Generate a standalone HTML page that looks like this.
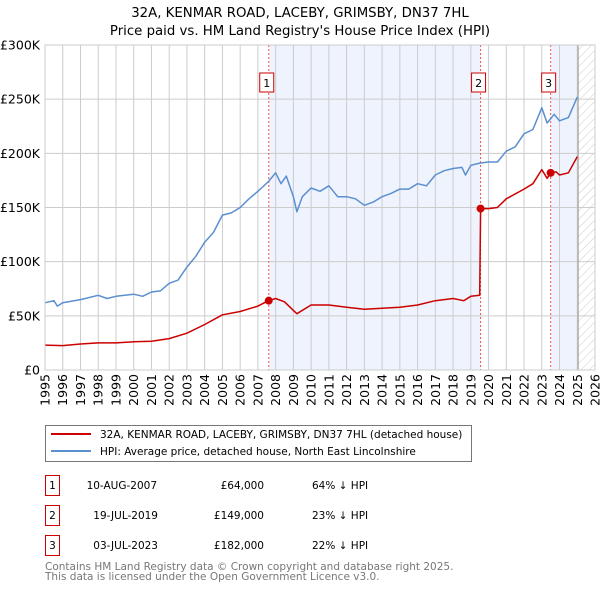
<!DOCTYPE html>
<html><head><meta charset="utf-8"><style>
body{margin:0;background:#fff;font-family:"DejaVu Sans","Liberation Sans",sans-serif;}
svg{display:block}
</style></head><body>
<svg width="600" height="590" xmlns="http://www.w3.org/2000/svg" font-family="DejaVu Sans, Liberation Sans, sans-serif">
<defs><pattern id="hatch" width="6" height="6" patternUnits="userSpaceOnUse" patternTransform="rotate(45)"><line x1="0" y1="0" x2="0" y2="6" stroke="#ccc" stroke-width="1"/></pattern></defs>
<text x="300" y="17" text-anchor="middle" font-size="13.3">32A, KENMAR ROAD, LACEBY, GRIMSBY, DN37 7HL</text>
<text x="300" y="35" text-anchor="middle" font-size="13.3">Price paid vs. HM Land Registry's House Price Index (HPI)</text>
<g id="plot"></g>
<g>
<rect x="45.5" y="425.5" width="426" height="36" fill="#fff" stroke="#777"/>
<line x1="51" y1="434" x2="91" y2="434" stroke="#cc0000" stroke-width="2"/>
<text x="100" y="438" font-size="10.5">32A, KENMAR ROAD, LACEBY, GRIMSBY, DN37 7HL (detached house)</text>
<line x1="51" y1="451" x2="91" y2="451" stroke="#5b8fd0" stroke-width="2"/>
<text x="100" y="455" font-size="10.5">HPI: Average price, detached house, North East Lincolnshire</text>
</g>
<g font-size="10.5">
<rect x="45.5" y="475.5" width="14" height="20" fill="#fff" stroke="#cc0000"/><text x="52.5" y="489" text-anchor="middle">1</text>
<text x="157" y="489" text-anchor="end">10-AUG-2007</text><text x="264" y="489" text-anchor="end">£64,000</text><text x="312" y="489">64% ↓ HPI</text>
<rect x="45.5" y="505.5" width="14" height="20" fill="#fff" stroke="#cc0000"/><text x="52.5" y="519" text-anchor="middle">2</text>
<text x="158" y="519" text-anchor="end">19-JUL-2019</text><text x="264" y="519" text-anchor="end">£149,000</text><text x="312" y="519">23% ↓ HPI</text>
<rect x="45.5" y="535.5" width="14" height="20" fill="#fff" stroke="#cc0000"/><text x="52.5" y="549" text-anchor="middle">3</text>
<text x="158" y="549" text-anchor="end">03-JUL-2023</text><text x="264" y="549" text-anchor="end">£182,000</text><text x="312" y="549">22% ↓ HPI</text>
</g>
<text x="45" y="570" font-size="10.5" fill="#777">Contains HM Land Registry data © Crown copyright and database right 2025.</text>
<text x="45" y="580" font-size="10.5" fill="#777">This data is licensed under the Open Government Licence v3.0.</text>
</svg>
<script>
const hpiYears=[1995,1995.5,1995.7,1996,1997,1998,1998.5,1999,2000,2000.5,2001,2001.5,2002,2002.5,2003,2003.5,2004,2004.5,2005,2005.5,2006,2006.5,2007,2007.6,2008,2008.3,2008.6,2009,2009.2,2009.5,2010,2010.5,2011,2011.5,2012,2012.5,2013,2013.5,2014,2014.5,2015,2015.5,2016,2016.5,2017,2017.5,2018,2018.5,2018.7,2019,2019.5,2020,2020.5,2021,2021.5,2022,2022.5,2023,2023.3,2023.7,2024,2024.5,2025];
const hpiValues=[62,64,59,62,65,69,66,68,70,68,72,73,80,83,95,105,118,127,143,145,150,158,165,174,182,172,179,160,146,160,168,165,170,160,160,158,152,155,160,163,167,167,172,170,180,184,186,187,180,189,191,192,192,202,206,218,222,242,228,236,230,233,252];
const ppYears=[1995,1996,1997,1998,1999,2000,2001,2002,2003,2004,2005,2006,2007,2007.6,2008,2008.5,2009,2009.2,2010,2011,2012,2013,2014,2015,2016,2017,2018,2018.6,2019,2019.5,2019.55,2020,2020.5,2021,2022,2022.5,2023,2023.3,2023.5,2023.8,2024,2024.5,2025];
const ppValues=[23,22.5,24,25,25,26,26.5,29,34,42,51,54,59,64,66,63,55,52,60,60,58,56,57,58,60,64,66,64,68,69,149,149,150,158,167,172,185,177,182,183,180,182,197];
const saleYears=[2007.61,2019.55,2023.5];
const saleValues=[64,149,182];
const saleLabels=["1","2","3"];
const yTicks=[0,50,100,150,200,250,300];
const yTickLabels=["£0","£50K","£100K","£150K","£200K","£250K","£300K"];
const xTicks=[1995,1996,1997,1998,1999,2000,2001,2002,2003,2004,2005,2006,2007,2008,2009,2010,2011,2012,2013,2014,2015,2016,2017,2018,2019,2020,2021,2022,2023,2024,2025,2026];
const dataEnd=2025.05;

const L=45,R=595,T=45,B=370;
const X=y=>L+(y-1995)*(R-L)/31;
const Y=v=>B-v*(B-T)/300;
const NS="http://www.w3.org/2000/svg";
const g=document.getElementById('plot');
function mk(t,a){const e=document.createElementNS(NS,t);for(const k in a)e.setAttribute(k,a[k]);g.appendChild(e);return e;}
let e;
e=mk('rect',{x:X(saleYears[0]),y:T,width:X(saleYears[1])-X(saleYears[0]),height:B-T,fill:'#eaf0fc',opacity:0.8});


e=mk('rect',{x:X(saleYears[2]),y:T,width:X(dataEnd)-X(saleYears[2]),height:B-T,fill:'#eaf0fc',opacity:0.8});


e=mk('rect',{x:X(dataEnd),y:T,width:R-X(dataEnd),height:B-T,fill:'url(#hatch)'});


xTicks.forEach(t=>{
 e=mk('line',{x1:X(t),x2:X(t),y1:T,y2:B,stroke:'#ccc','stroke-width':1});
 
 
 e=mk('text',{x:0,y:0,transform:`translate(${X(t)+4.5},${B+4}) rotate(-90)`,'text-anchor':'end','font-size':12.5});
 e.textContent=t;
 
 
});
yTicks.forEach((t,i)=>{
 e=mk('line',{x1:L,x2:R,y1:Y(t),y2:Y(t),stroke:'#ccc','stroke-width':1});
 
 
 e=mk('text',{x:L-5,y:Y(t)+4.5,'text-anchor':'end','font-size':12.5});
 e.textContent=yTickLabels[i];
 
 
});
e=mk('line',{x1:X(dataEnd),x2:X(dataEnd),y1:T,y2:B,stroke:'#999','stroke-width':1});


saleYears.forEach((s,i)=>{
 e=mk('line',{x1:X(s),x2:X(s),y1:T,y2:B,stroke:'#e55','stroke-width':1,'stroke-dasharray':'2,2'});
 
 
 e=mk('rect',{x:X(s)-9,y:73,width:14,height:19,fill:'#fff',stroke:'#cc0000'});
 
 
 e=mk('text',{x:X(s)-2,y:87,'text-anchor':'middle','font-size':11});
 e.textContent=saleLabels[i];
 
 
});
const pts=(xs,vs)=>xs.map((x,i)=>X(x).toFixed(1)+','+Y(vs[i]).toFixed(1)).join(' ');
e=mk('polyline',{points:pts(hpiYears,hpiValues),fill:'none',stroke:'#5b8fd0','stroke-width':1.5,'stroke-linejoin':'round'});


e=mk('polyline',{points:pts(ppYears,ppValues),fill:'none',stroke:'#cc0000','stroke-width':1.5,'stroke-linejoin':'round'});


saleYears.forEach((s,i)=>{
 e=mk('circle',{cx:X(s),cy:Y(saleValues[i]),r:4,fill:'#cc0000'});
 
 
});
e=mk('rect',{x:L,y:T,width:R-L,height:B-T,fill:'none',stroke:'#ccc'});


</script>
</body></html>
